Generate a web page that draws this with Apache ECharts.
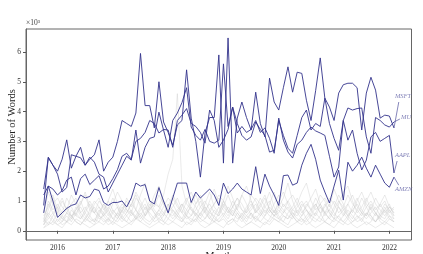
<!DOCTYPE html>
<html><head><meta charset="utf-8">
<script src="https://cdn.jsdelivr.net/npm/echarts@6/dist/echarts.min.js"></script>
<style>html,body{margin:0;padding:0;background:#fff}#c{width:423px;height:254px}</style>
</head><body><div id="c"></div>
<script>
// Monthly observations, Oct 2015 .. Feb 2022
const nMonths = 77;
const months = [];
for (let i = 0; i < nMonths; i++) { const m = 9 + i; months.push((2015 + Math.floor(m / 12)) + '-' + String(m % 12 + 1).padStart(2, '0')); }
const xTicks = [2016, 2017, 2018, 2019, 2020, 2021, 2022];
const yTicks = [0, 1, 2, 3, 4, 5, 6];

// highlighted firms (thousands of words)
const msft = [1.4,2.45,2.2,
 2.0,2.4,3.05,2.1,2.5,2.8,2.2,2.4,2.55,3.05,2.0,2.3,
 2.47,3.0,3.7,3.6,3.5,3.95,5.95,4.2,4.2,3.45,5.0,3.65,
 3.3,2.87,3.55,3.7,5.4,3.78,3.0,1.8,3.28,3.8,3.8,5.9,
 2.27,6.47,2.27,3.78,4.32,3.8,3.38,4.65,3.6,3.15,5.12,4.32,
 4.05,4.8,5.5,4.65,5.32,5.28,4.38,3.7,4.7,5.8,4.45,4.15,
 3.7,4.62,4.9,4.95,4.95,4.8,3.38,4.62,5.15,4.72,3.78,3.88,
 3.85,3.45];
const mu = [1.2,1.5,1.4,
 1.2,1.35,1.7,1.8,1.2,1.75,1.9,1.55,1.7,1.85,1.4,1.5,
 1.75,2.05,2.5,2.6,2.4,3.0,3.1,3.3,3.7,3.6,3.28,3.4,
 3.38,2.8,3.7,3.88,4.1,3.6,3.5,3.3,2.94,4.05,3.7,2.8,
 3.04,3.4,4.15,3.28,3.5,3.3,3.4,3.7,3.3,3.45,3.1,2.6,
 3.78,3.04,2.64,2.44,2.9,3.04,3.3,3.48,3.35,3.28,3.2,2.5,
 1.8,2.14,3.7,4.12,4.05,4.1,4.12,3.15,2.6,3.8,3.7,3.55,
 3.48,3.65];
const aapl = [0.85,2.47,2.2,
 1.9,1.3,1.45,2.55,2.5,2.45,2.2,2.47,2.3,1.9,1.8,1.3,
 1.6,1.9,2.2,2.5,2.37,3.38,2.27,2.8,3.1,3.15,3.98,3.38,
 2.8,3.7,3.95,4.3,4.8,3.48,3.2,3.04,3.4,3.0,2.94,3.04,
 5.6,3.5,4.15,3.6,3.2,3.04,3.15,3.65,3.4,3.2,2.64,2.7,
 3.7,3.2,2.77,2.6,3.2,3.8,4.05,3.38,3.6,3.5,4.45,3.6,
 3.1,2.7,3.7,3.04,3.38,2.6,2.04,2.37,3.15,3.3,3.0,3.1,
 3.2,1.94];
const amzn = [0.6,1.5,1.0,
 0.45,0.6,0.75,0.85,0.9,1.2,1.1,1.15,1.4,1.35,0.95,0.85,
 0.95,0.95,1.0,0.8,1.1,1.6,1.5,1.55,1.0,0.9,1.45,1.0,
 0.6,1.1,1.6,1.6,1.6,0.95,1.3,1.1,1.25,1.4,1.2,0.85,
 1.6,1.25,1.4,1.6,1.4,1.3,1.2,2.15,1.25,1.9,1.5,1.2,
 0.85,1.85,1.87,1.53,1.6,2.2,2.6,2.9,2.4,1.7,1.3,0.93,
 1.5,2.03,1.03,2.3,2.0,2.2,2.47,2.1,1.8,2.2,1.9,1.6,
 1.46,1.8];

// background firms
const other1 = [0.3,1.0,0.7,0.9,0.6,1.1,0.8,0.5,0.9,1.2,0.7,
 0.6,1.0,0.8,0.5,0.9,1.3,1.0,0.7,0.6,1.1,0.9,
 0.5,0.8,1.2,1.5,0.9,0.6,0.8,1.1,0.7,0.5,0.9,
 1.2,0.8,0.6,1.0,1.4,0.9,0.7,0.5,0.8,1.1,0.9,
 0.6,1.2,1.0,0.7,0.5,0.9,1.3,0.8,0.6,1.0,1.2,
 0.9,0.6,0.8,1.1,1.4,0.9,0.6,0.7,1.0,0.8,0.5,
 0.9,1.2,0.8,0.6,1.0,1.3,0.9,0.7,0.5,0.8,0.6];
const other2 = [0.1,0.3,0.2,0.4,0.2,0.3,0.5,0.3,0.2,0.4,0.3,
 0.2,0.5,0.4,0.2,0.3,0.6,0.4,0.3,0.2,0.4,0.5,
 0.3,0.2,0.4,0.6,0.3,0.2,0.3,0.5,0.4,0.2,0.3,
 0.6,0.4,0.3,0.2,0.5,0.3,0.4,0.2,0.3,0.6,0.4,
 0.2,0.3,0.5,0.3,0.2,0.4,0.7,0.4,0.3,0.2,0.5,
 0.3,0.4,0.2,0.3,0.6,0.4,0.3,0.2,0.4,0.5,0.3,
 0.2,0.3,0.5,0.4,0.2,0.3,0.6,0.3,0.2,0.4,0.3];
const other3 = [0.5,0.8,1.2,0.7,0.4,0.6,0.9,1.1,0.6,0.4,0.7,
 1.0,0.8,0.5,0.7,1.1,0.8,0.4,0.6,0.9,0.7,1.2,
 1.6,1.0,0.7,0.5,0.8,1.1,0.9,0.6,0.4,0.7,1.0,
 0.8,0.5,0.9,1.3,0.8,0.6,1.0,1.5,1.1,0.7,0.5,
 0.8,1.0,0.6,0.9,1.2,0.7,0.5,0.8,1.1,1.6,1.0,
 0.6,0.9,0.7,0.5,0.8,1.2,1.0,0.6,0.4,0.9,1.3,
 1.5,1.0,0.6,0.8,1.1,0.7,0.5,0.9,1.2,0.8,0.6];
const other4 = [0.2,0.5,0.3,0.6,0.4,0.3,0.7,0.5,0.4,0.6,0.9,
 0.6,0.4,0.5,0.8,0.6,0.4,0.7,1.0,0.6,0.5,0.8,
 1.1,0.7,0.9,0.8,1.2,1.9,2.4,4.6,1.5,0.9,0.7,
 0.6,0.4,0.7,0.9,0.6,0.5,0.8,1.2,0.8,0.6,0.4,
 0.7,0.9,0.6,0.8,1.1,0.7,0.5,0.6,0.9,0.7,0.5,
 0.8,1.0,0.7,0.5,0.6,0.9,0.6,0.4,0.7,1.0,0.8,
 0.5,0.7,0.9,0.6,0.4,0.6,0.8,0.5,0.4,0.7,0.5];
const other5 = [0.4,0.2,0.5,0.8,0.5,0.3,0.4,0.7,1.0,0.6,0.4,
 0.3,0.6,0.9,0.7,0.4,0.3,0.5,0.8,1.1,0.7,0.4,
 0.6,0.9,0.6,0.3,0.5,0.8,1.2,0.9,0.6,0.4,0.5,
 0.9,1.1,0.7,0.4,0.3,0.6,1.0,0.7,0.5,0.8,1.2,
 0.9,0.5,0.4,0.6,0.9,1.3,0.8,0.5,0.3,0.6,0.8,
 1.1,0.7,0.4,0.6,0.9,0.6,0.3,0.5,0.8,1.2,0.9,
 0.6,0.4,0.7,1.1,0.8,0.5,0.3,0.6,0.9,0.7,0.4];
const other6 = [0.2,0.4,0.6,0.3,0.5,0.8,0.5,0.3,0.2,0.4,0.6,
 0.8,0.5,0.3,0.4,0.7,0.5,0.3,0.5,0.7,0.4,0.3,
 0.5,0.8,0.6,0.4,0.3,0.6,0.5,0.7,0.9,0.5,0.3,
 0.4,0.6,0.8,0.5,0.3,0.4,0.6,0.4,0.7,0.5,0.3,
 0.5,0.7,0.9,0.6,0.4,0.3,0.5,0.7,0.5,0.4,0.6,
 0.4,0.3,0.5,0.7,0.5,0.8,0.6,0.4,0.3,0.5,0.7,
 0.5,0.3,0.4,0.6,0.5,0.8,0.6,0.4,0.3,0.5,0.4];
const other7 = [0.6,1.3,0.9,0.6,1.0,0.7,1.2,0.9,0.6,0.8,0.5,
 0.9,1.1,0.7,1.0,1.4,0.9,0.6,1.1,0.8,1.3,1.0,
 0.7,1.0,0.8,1.2,0.9,0.7,1.1,0.8,0.6,1.0,1.3,
 0.9,1.2,0.8,0.6,0.9,1.1,0.8,0.6,1.0,0.7,1.2,
 1.5,1.0,0.7,1.1,0.8,0.6,0.9,1.2,0.8,1.0,0.7,
 0.9,1.3,1.6,1.0,0.7,0.9,1.1,0.8,1.4,1.0,0.7,
 0.9,0.6,1.0,1.3,0.9,0.7,1.1,0.8,1.0,0.6,0.8];
const other8 = [0.3,0.6,0.4,0.2,0.3,0.5,0.3,0.6,0.8,0.5,0.3,
 0.4,0.3,0.6,0.4,0.2,0.4,0.7,0.5,0.3,0.4,0.6,
 0.4,0.3,0.5,0.7,0.5,0.9,0.6,0.4,0.3,0.6,0.8,
 0.5,0.3,0.4,0.6,0.5,0.8,0.5,0.3,0.4,0.3,0.6,
 0.4,0.6,0.3,0.5,0.7,0.5,0.4,0.3,0.5,0.4,0.7,
 0.6,0.4,0.3,0.5,0.4,0.3,0.6,0.9,0.6,0.4,0.3,
 0.5,0.7,0.5,0.3,0.6,0.4,0.3,0.5,0.7,0.4,0.3];
const other9 = [0.7,0.5,0.9,1.1,0.8,0.6,0.5,0.7,0.9,1.3,0.8,
 0.6,0.8,0.6,1.0,0.7,0.5,0.8,0.6,0.9,1.2,0.8,
 0.5,0.7,1.0,0.8,0.6,0.9,0.7,0.5,0.8,1.1,0.7,
 0.5,0.8,1.0,0.7,0.9,1.2,1.0,0.7,0.5,0.9,0.7,
 0.6,0.8,1.1,0.9,0.6,0.8,0.6,1.0,1.3,0.9,0.6,
 0.5,0.8,1.0,0.7,0.9,0.6,0.8,1.1,0.9,0.6,0.8,
 1.2,0.9,0.7,0.5,0.8,1.0,0.7,0.9,0.6,0.8,0.7];
const other10 = [0.1,0.2,0.3,0.2,0.1,0.3,0.2,0.4,0.3,0.2,0.1,
 0.2,0.3,0.2,0.4,0.3,0.2,0.1,0.2,0.3,0.5,0.3,
 0.2,0.1,0.2,0.3,0.2,0.4,0.3,0.2,0.1,0.3,0.2,
 0.4,0.2,0.1,0.2,0.3,0.2,0.1,0.3,0.4,0.2,0.1,
 0.2,0.3,0.2,0.1,0.3,0.2,0.4,0.3,0.2,0.1,0.2,
 0.3,0.2,0.4,0.2,0.1,0.2,0.3,0.2,0.1,0.3,0.2,
 0.4,0.2,0.1,0.2,0.3,0.2,0.1,0.2,0.3,0.2,0.1];
const other11 = [0.4,0.9,0.6,0.8,1.1,0.7,0.5,0.6,0.4,0.7,1.0,
 0.7,0.5,0.9,0.6,0.4,0.6,0.9,0.7,0.5,0.7,0.5,
 0.8,0.6,0.4,0.7,1.0,0.6,0.4,0.6,0.9,0.7,0.5,
 0.7,1.0,0.6,0.4,0.7,0.5,0.9,0.6,0.8,1.1,0.7,
 0.5,0.4,0.7,0.5,0.8,1.0,0.6,0.9,0.7,0.5,0.4,
 0.7,0.5,0.9,0.7,1.1,0.8,0.5,0.7,0.5,0.8,0.6,
 0.4,0.8,1.1,0.7,0.5,0.9,0.6,0.4,0.7,0.9,0.5];
const other12 = [0.2,0.7,1.1,0.5,0.3,0.6,0.4,0.8,0.5,0.3,0.5,
 0.3,0.7,0.5,0.3,0.6,0.8,0.5,0.3,0.6,0.4,0.7,
 0.9,0.5,0.3,0.4,0.6,0.4,0.7,0.5,0.3,0.5,0.4,
 0.3,0.6,0.4,0.7,0.4,0.3,0.5,0.8,0.6,0.4,0.5,
 0.3,0.6,0.4,0.3,0.5,0.7,0.5,0.4,0.6,0.8,0.5,
 0.3,0.5,0.7,0.4,0.3,0.5,0.9,0.6,0.4,0.3,0.5,
 0.7,0.5,0.3,0.4,0.6,0.5,0.3,0.5,0.8,0.5,0.3];

const highlighted = [['MSFT', msft], ['MU', mu], ['AAPL', aapl], ['AMZN', amzn]];
const others = [other1, other2, other3, other4, other5, other6, other7, other8, other9, other10, other11, other12];

// label placement (annotation layout, in data units)
const annot = {
  MSFT: { text: [2022.10, 4.52], lead: [2022.17, 4.32] },
  MU:   { text: [2022.21, 3.82], lead: [2022.19, 3.75] },
  AAPL: { text: [2022.10, 2.54], lead: [2022.14, 2.34] },
  AMZN: { text: [2022.10, 1.40], lead: [2022.17, 1.53] }
};

function monthToYear(s) { const p = s.split('-').map(Number); return p[0] + (p[1] - 1) / 12; }
const xs = months.map(monthToYear);
const NAVY = '#33338c';
const SERIF = '"Liberation Serif", "DejaVu Serif", serif';

const series = [];
others.forEach((arr, k) => {
  series.push({ type: 'line', name: 'o' + k, data: arr.map((v, i) => [xs[i], v]), symbol: 'none', silent: true,
    lineStyle: { color: '#c8c8c8', width: 0.6, opacity: 0.65 }, z: 1 });
});
highlighted.forEach(([name, arr]) => {
  const last = arr.length - 1;
  series.push({ type: 'line', name, data: arr.map((v, i) => [xs[i], v]), symbol: 'none', silent: true,
    lineStyle: { color: NAVY, width: 1, opacity: 0.9 }, z: 3,
    markLine: { silent: true, symbol: 'none', label: { show: false },
      lineStyle: { color: NAVY, width: 0.7, type: 'solid', opacity: 0.85 },
      data: [[{ coord: [xs[last], arr[last]] }, { coord: annot[name].lead }]] } });
});
series.push({ type: 'scatter', name: 'labels', symbolSize: 0, silent: true, z: 4,
  data: highlighted.map(([name]) => ({ value: annot[name].text, name })),
  label: { show: true, position: 'right', distance: 0, formatter: p => p.name,
    fontFamily: SERIF, fontStyle: 'italic', fontSize: 6.5, color: '#6464a8' } });

const chart = echarts.init(document.getElementById('c'), null, { renderer: 'canvas' });
chart.setOption({
  animation: false,
  backgroundColor: '#fff',
  grid: { left: 26, right: 11.5, top: 29, bottom: 14, show: true, borderColor: '#666', borderWidth: 1,
    containLabel: false, outerBoundsMode: 'none' },
  xAxis: { type: 'value', min: 2015.43, max: 2022.4,
    name: 'Month', nameLocation: 'middle', nameGap: 11, nameMoveOverlap: false,
    nameTextStyle: { fontFamily: SERIF, fontSize: 10, color: '#222', verticalAlign: 'top' },
    axisLine: { show: true, lineStyle: { color: '#666', width: 1 } },
    axisTick: { show: true, customValues: xTicks, length: 3, lineStyle: { color: '#555' } },
    axisLabel: { customValues: xTicks, formatter: v => String(v), fontFamily: SERIF, fontSize: 7.5, color: '#333', margin: 4 },
    splitLine: { show: false } },
  yAxis: { type: 'value', min: -0.31, max: 6.77,
    name: '×10³', nameLocation: 'end', nameGap: 2, nameMoveOverlap: false,
    nameTextStyle: { fontFamily: SERIF, fontSize: 7.5, color: '#444', align: 'left', verticalAlign: 'bottom' },
    axisLine: { show: true, lineStyle: { color: '#666', width: 1 } },
    axisTick: { show: true, customValues: yTicks, length: 3, lineStyle: { color: '#555' } },
    axisLabel: { customValues: yTicks, formatter: v => String(v), fontFamily: SERIF, fontSize: 7.5, color: '#333', margin: 5 },
    splitLine: { show: false } },
  graphic: [{ type: 'text', left: 7, top: 'middle', rotation: Math.PI / 2,
    style: { text: 'Number of Words', font: '10.5px ' + SERIF, fill: '#222' } }],
  series
});
</script></body></html>
